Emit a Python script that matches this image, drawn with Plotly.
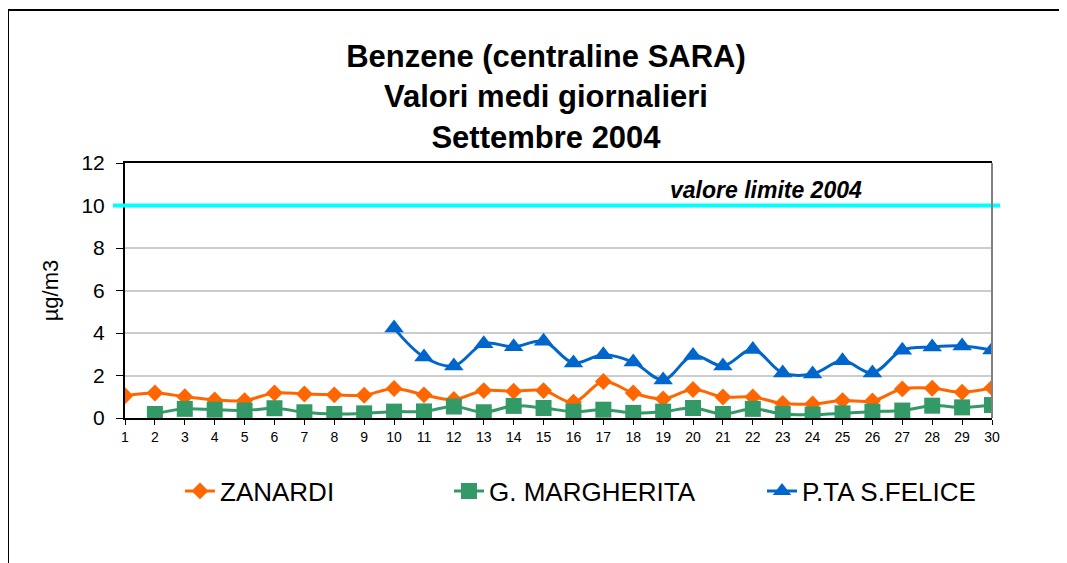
import plotly.graph_objects as go

days = list(range(1, 31))
zanardi = [1.05, 1.18, 1.0, 0.85, 0.82, 1.18, 1.13, 1.09, 1.07, 1.39,
           1.09, 0.87, 1.29, 1.26, 1.29, 0.74, 1.72, 1.18, 0.9, 1.34,
           0.99, 0.99, 0.68, 0.66, 0.82, 0.8, 1.37, 1.4, 1.21, 1.42]
margherita = [None, 0.19, 0.43, 0.39, 0.35, 0.46, 0.27, 0.19, 0.22, 0.3,
              0.31, 0.54, 0.27, 0.57, 0.47, 0.3, 0.39, 0.24, 0.3, 0.47,
              0.19, 0.43, 0.19, 0.16, 0.22, 0.3, 0.35, 0.58, 0.5, 0.61]
sfelice = [None] * 9 + [4.23, 2.87, 2.45, 3.5, 3.35, 3.61, 2.59, 2.98, 2.63, 1.79,
                        2.94, 2.45, 3.22, 2.12, 2.07, 2.69, 2.12, 3.19, 3.34, 3.39, 3.2]
limit_value = 10
limit_label = "valore limite 2004"
names = ["ZANARDI", "G. MARGHERITA", "P.TA S.FELICE"]
y_ticks = [0, 2, 4, 6, 8, 10, 12]

FONT = "Liberation Sans, Arial, sans-serif"
OFF = 8  # page body margin offset

fig = go.Figure()

fig.add_trace(go.Scatter(
    x=days, y=zanardi, name=names[0], mode="lines+markers",
    line=dict(color="#FF6600", width=3, shape="spline", smoothing=1.0),
    marker=dict(symbol="diamond", size=13, color="#FF6600"),
    legend="legend"))
fig.add_trace(go.Scatter(
    x=days, y=margherita, name=names[1], mode="lines+markers",
    line=dict(color="#339966", width=3, shape="spline", smoothing=1.0),
    marker=dict(symbol="square", size=16, color="#339966"),
    legend="legend2"))
fig.add_trace(go.Scatter(
    x=days, y=sfelice, name=names[2], mode="lines+markers",
    line=dict(color="#0066CC", width=3, shape="spline", smoothing=1.0),
    marker=dict(symbol="triangle-up", size=17, color="#0066CC"),
    legend="legend3"))

# plot area on screen: x 125..992, y 163..418
W, H = 1067, 563
L, R, T, B = 125 - OFF, 992 - OFF, 163 - OFF, 418 - OFF
pw, ph = R - L, B - T

def px_x(p):
    return (p - OFF - L) / pw

def px_y(p):
    return (B - (p - OFF)) / ph

shapes = [
    dict(type="line", xref="paper", yref="y", x0=px_x(113), x1=px_x(1000),
         y0=limit_value, y1=limit_value, line=dict(color="#00FFFF", width=4), layer="above"),
    dict(type="line", xref="paper", yref="paper", x0=1, x1=1, y0=0, y1=1,
         line=dict(color="#808080", width=2)),
    dict(type="rect", xref="paper", yref="paper", x0=px_x(8), x1=px_x(1100),
         y0=px_y(600), y1=px_y(10), line=dict(color="#000000", width=2)),
]

legend_common = dict(orientation="h", yanchor="middle", xanchor="left",
                     y=px_y(491), font=dict(family=FONT, size=26, color="#000000"),
                     bgcolor="rgba(0,0,0,0)", borderwidth=0)

fig.update_layout(
    width=W, height=H,
    margin=dict(l=L, r=W - R, t=T, b=H - B, pad=0),
    paper_bgcolor="white", plot_bgcolor="white",
    font=dict(family=FONT, color="#000000"),
    title=dict(text="<b>Benzene (centraline SARA)<br>Valori medi giornalieri<br>Settembre 2004</b>",
               x=(546 - OFF) / W, xanchor="center", xref="container",
               y=1 - 59 / H, yanchor="top", yref="container",
               font=dict(family=FONT, size=31, color="#000000")),
    xaxis=dict(range=[1, 30], tickmode="array", tickvals=days, ticktext=[str(d) for d in days],
               ticks="outside", ticklen=5, tickcolor="#000000", tickwidth=1,
               showline=True, linecolor="#000000", linewidth=2, mirror=True,
               showgrid=False, zeroline=False,
               tickfont=dict(family=FONT, size=14, color="#000000")),
    yaxis=dict(range=[0, 12], tickmode="array", tickvals=y_ticks,
               ticks="outside", ticklen=7, tickcolor="#000000", tickwidth=1,
               ticklabelstandoff=7,
               showline=True, linecolor="#000000", linewidth=2,
               showgrid=True, gridcolor="#CCCCCC", gridwidth=1.5, zeroline=False,
               tickfont=dict(family=FONT, size=21, color="#000000"),
               title=dict(text="µg/m3", standoff=17,
                          font=dict(family=FONT, size=22, color="#000000"))),
    shapes=shapes,
    annotations=[dict(text="<b><i>" + limit_label + "</i></b>", xref="paper", yref="y",
                      x=px_x(766), y=limit_value, xanchor="center", yanchor="bottom",
                      yshift=1, showarrow=False,
                      font=dict(family=FONT, size=23, color="#000000"))],
    legend=dict(x=px_x(180), **legend_common),
    legend2=dict(x=px_x(449), **legend_common),
    legend3=dict(x=px_x(762), **legend_common),
    showlegend=True,
)

fig.write_html("out.html")
